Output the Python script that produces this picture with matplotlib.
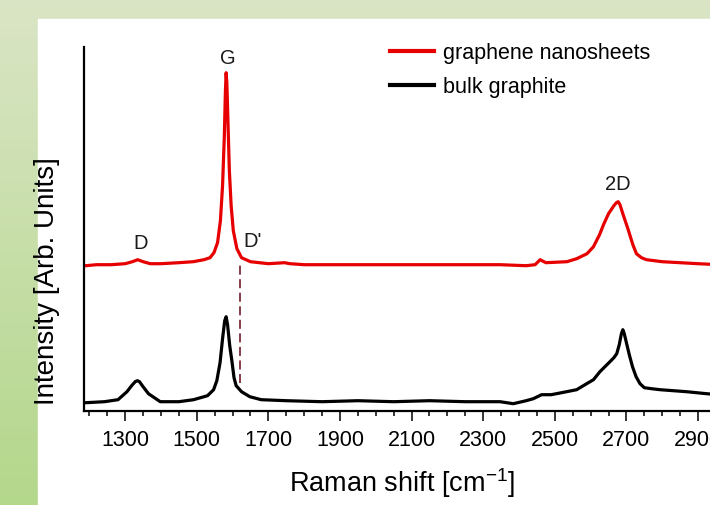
import numpy as np
import matplotlib
matplotlib.use("Agg")
import matplotlib.pyplot as plt
from matplotlib.ticker import MultipleLocator

plt.rcParams['font.family'] = ['Liberation Sans', 'DejaVu Sans']
plt.rcParams['mathtext.fontset'] = 'custom'
plt.rcParams['mathtext.rm'] = 'Liberation Sans'
plt.rcParams['mathtext.it'] = 'Liberation Sans'

# Raman shift (cm-1) and intensity (arb. units)
graphene_shift = [1190, 1220, 1260, 1300, 1320, 1335, 1350, 1370, 1400, 1450, 1490,
                  1520, 1537, 1548, 1558, 1566, 1572, 1577, 1580, 1582, 1584, 1587,
                  1591, 1596, 1602, 1612, 1625, 1650, 1700, 1745, 1760, 1800, 1900,
                  2000, 2100, 2200, 2300, 2347, 2420, 2445, 2459, 2475, 2534, 2561,
                  2590, 2608, 2625, 2636, 2650, 2665, 2672, 2677, 2682, 2690, 2705,
                  2718, 2728, 2742, 2756, 2800, 2850, 2900, 2960]
graphene_int = [145, 146, 146, 147, 149, 151, 149, 147, 147, 148, 149,
                151, 153, 158, 168, 190, 225, 275, 320, 338, 328, 290,
                240, 205, 180, 162, 153, 149, 147, 148, 147, 146, 146,
                146, 146, 146, 146, 146, 145, 146, 151, 148, 149, 152,
                157, 164, 176, 186, 197, 205, 208, 209, 206, 197, 181,
                166, 157, 153, 151, 149, 148, 147, 146]

graphite_shift = [1190, 1242, 1280, 1305, 1318, 1328, 1334, 1340, 1350, 1365, 1398,
                  1450, 1491, 1530, 1547, 1556, 1565, 1572, 1578, 1582, 1586, 1592,
                  1598, 1604, 1610, 1625, 1648, 1680, 1750, 1850, 1950, 2050, 2150,
                  2250, 2347, 2384, 2420, 2440, 2463, 2490, 2533, 2561, 2589, 2608,
                  2626, 2640, 2654, 2665, 2673, 2680, 2686, 2690, 2694, 2700, 2708,
                  2717, 2727, 2738, 2750, 2770, 2794, 2868, 2924, 2960]
graphite_int = [8, 9, 11, 19, 25, 29, 30, 29, 24, 17, 9,
                9, 11, 15, 21, 30, 48, 72, 90, 94, 86, 65,
                50, 33, 25, 19, 14, 11, 10, 9, 10, 9, 10,
                9, 9, 7, 10, 12, 16, 16, 19, 21, 27, 31,
                39, 44, 49, 53, 57, 66, 77, 81, 77, 68, 56,
                44, 34, 27, 23, 22, 21, 19, 17, 16]

dprime_pos = 1622
dprime_range = [28, 149]

peak_labels = ['G', 'D', "D'", '2D']
peak_label_x = [1588, 1342, 1655, 2677]
peak_label_y = [352, 167, 169, 226]

fig = plt.figure(figsize=(7.1, 5.05), dpi=100)

# green frame behind the white panel
bg = fig.add_axes([0, 0, 1, 1])
bg.set_axis_off()
top_col = np.array([0.855, 0.898, 0.773])
bot_col = np.array([0.702, 0.843, 0.545])
t = np.linspace(0, 1, 256)[:, None]
grad = (top_col[None, :] * (1 - t) + bot_col[None, :] * t)[:, None, :]
bg.imshow(grad, aspect='auto', extent=[0, 1, 0, 1])
bg.add_patch(plt.Rectangle((38 / 710, 0), 1, 1 - 19 / 505, color='white'))
bg.set_xlim(0, 1)
bg.set_ylim(0, 1)

ax = fig.add_axes([84 / 710, 94.3 / 505, 635.5 / 710, 363.7 / 505])
ax.patch.set_alpha(0)

ax.plot(graphene_shift, graphene_int, color='#e60000', lw=2.3, label='graphene nanosheets')
ax.plot(graphite_shift, graphite_int, color='black', lw=2.3, label='bulk graphite')
ax.plot([dprime_pos, dprime_pos], dprime_range, color='#7b2d3a', lw=1.3, ls=(0, (5, 2.5)))

for lab, lx, ly in zip(peak_labels, peak_label_x, peak_label_y):
    ax.text(lx, ly, lab, ha='center', va='center', fontsize=14.5, color='#1a1a1a')

ax.set_xlim(1185, 2960)
ax.set_ylim(0, 363.7)
ax.xaxis.set_minor_locator(MultipleLocator(50))
ax.set_xticks(np.arange(1300, 3000, 200))
ax.set_yticks([])
for s in ['top', 'right']:
    ax.spines[s].set_visible(False)
for s in ['left', 'bottom']:
    ax.spines[s].set_linewidth(1.6)
ax.tick_params(axis='x', which='major', length=7, width=1.1, labelsize=15.5, pad=7, direction='out')
ax.tick_params(axis='x', which='minor', length=3.6, width=1.1, direction='out')

ax.set_xlabel('Raman shift [cm$^{-1}$]', fontsize=19.5, labelpad=11)
ax.set_ylabel('Intensity [Arb. Units]', fontsize=20)
ax.yaxis.set_label_coords(-0.038, 0.357)

leg = ax.legend(loc='upper left', bbox_to_anchor=(390 / 710, 1 - 43 / 505),
                bbox_transform=fig.transFigure, frameon=False, fontsize=15.5,
                handlelength=2.05, handletextpad=0.42, labelspacing=0.6,
                borderpad=0, borderaxespad=0)
for line in leg.get_lines():
    line.set_linewidth(3)

fig.savefig('out.png', dpi=100)
